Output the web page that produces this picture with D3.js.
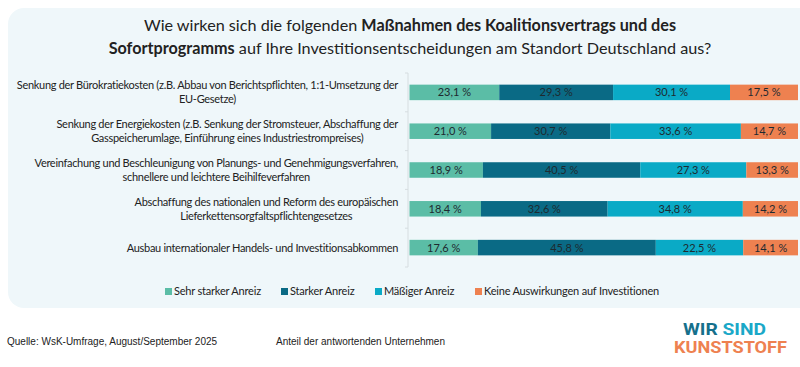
<!DOCTYPE html>
<html>
<head>
  <meta charset="utf-8">
  <script src="https://cdn.jsdelivr.net/npm/d3@7"></script>
  <style>
    body { margin: 0; background: #fff; }
    svg { display: block; }
  </style>
</head>
<body>
  <svg width="800" height="367"></svg>
</body>
<script>

const categories = [
  ['Senkung der Bürokratiekosten (z.B. Abbau von Berichtspflichten, 1:1-Umsetzung der', 'EU-Gesetze)'],
  ['Senkung der Energiekosten (z.B. Senkung der Stromsteuer, Abschaffung der', 'Gasspeicherumlage, Einführung eines Industriestrompreises)'],
  ['Vereinfachung und Beschleunigung von Planungs- und Genehmigungsverfahren,', 'schnellere und leichtere Beihilfeverfahren'],
  ['Abschaffung des nationalen und Reform des europäischen', 'Lieferkettensorgfaltspflichtengesetzes'],
  ['Ausbau internationaler Handels- und Investitionsabkommen']
];

const series = ['Sehr starker Anreiz', 'Starker Anreiz', 'Mäßiger Anreiz', 'Keine Auswirkungen auf Investitionen'];

const sehrStark = [23.1, 21.0, 18.9, 18.4, 17.6];
const stark     = [29.3, 30.7, 40.5, 32.6, 45.8];
const maessig   = [30.1, 33.6, 27.3, 34.8, 22.5];
const keine     = [17.5, 14.7, 13.3, 14.2, 14.1];

const colors = ['#5bbda6', '#0a6a85', '#0aaac6', '#ee8150'];

let svg = d3.select('svg');

// panel background
svg.append('rect')
  .attr('x', 8).attr('y', 8)
  .attr('width', 810).attr('height', 300)
  .attr('rx', 16)
  .style('fill', '#eff7fa');

// title
let title = svg.append('text')
  .attr('text-anchor', 'middle')
  .style('font-family', 'Lato, sans-serif')
  .style('font-size', '16.2px')
  .style('fill', '#222');
let t1 = title.append('tspan').attr('x', 410).attr('y', 31);
t1.append('tspan').text('Wie wirken sich die folgenden ');
t1.append('tspan').style('font-weight', 'bold').text('Maßnahmen des Koalitionsvertrags und des');
let t2 = title.append('tspan').attr('x', 410).attr('y', 54);
t2.append('tspan').style('font-weight', 'bold').text('Sofortprogramms');
t2.append('tspan').text(' auf Ihre Investitionsentscheidungen am Standort Deutschland aus?');

let rows = categories.map((c, i) => ({
  idx: i,
  label: c,
  values: [sehrStark[i], stark[i], maessig[i], keine[i]]
}));

let x = d3.scaleLinear().domain([0, 100]).range([409.5, 798]);
let y = d3.scaleBand().domain(d3.range(rows.length)).range([73, 267]).paddingInner(0.6).paddingOuter(0.3);

// axis line with ticks between categories
let axis = svg.append('g');
axis.append('line')
  .attr('x1', 408).attr('x2', 408)
  .attr('y1', 73).attr('y2', 267)
  .style('stroke', '#d6dde0');
let bounds = d3.range(rows.length + 1).map(i => 73 + i * y.step());
axis.selectAll('.tk').data(bounds).join('line')
  .attr('x1', 405).attr('x2', 408)
  .attr('y1', d => d).attr('y2', d => d)
  .style('stroke', '#d6dde0');

// bars
rows.forEach(r => {
  let acc = 0;
  let g = svg.append('g');
  r.values.forEach((v, k) => {
    let x0 = acc;
    acc += v;
    g.append('rect')
      .attr('x', x(x0))
      .attr('y', y(r.idx))
      .attr('width', x(acc) - x(x0))
      .attr('height', y.bandwidth())
      .style('fill', colors[k]);
    g.append('text')
      .attr('x', (x(x0) + x(acc)) / 2)
      .attr('y', y(r.idx) + y.bandwidth() / 2 + 4)
      .attr('text-anchor', 'middle')
      .style('font-family', 'Lato, sans-serif')
      .style('font-size', '11px')
      .style('fill', '#1e2a30')
      .text(v.toFixed(1).replace('.', ',') + ' %');
  });

  // category label: block right-aligned, lines centred inside it
  let lines = r.label;
  let cy = y(r.idx) + y.bandwidth() / 2;
  let lab = svg.append('text')
    .attr('text-anchor', 'middle')
    .style('font-family', 'Lato, sans-serif')
    .style('font-size', '11px')
    .style('letter-spacing', '-0.3px')
    .style('fill', '#222');
  let spans = lines.map((l, j) =>
    lab.append('tspan')
      .attr('y', cy + 4 + (j - (lines.length - 1) / 2) * 14)
      .text(l));
  let wmax = d3.max(spans, s => s.node().getComputedTextLength());
  spans.forEach(s => s.attr('x', 398 - wmax / 2));
});

// legend
let legendX = [165, 281, 375, 475];
let legend = svg.append('g');
series.forEach((s, k) => {
  legend.append('rect')
    .attr('x', legendX[k]).attr('y', 288)
    .attr('width', 7).attr('height', 7)
    .style('fill', colors[k]);
  legend.append('text')
    .attr('x', legendX[k] + 9).attr('y', 295)
    .style('font-family', 'Lato, sans-serif')
    .style('font-size', '11px')
    .style('letter-spacing', '-0.2px')
    .style('fill', '#222')
    .text(s);
});

// footer
svg.append('text')
  .attr('x', 7).attr('y', 345)
  .style('font-family', 'Liberation Sans, Arial, sans-serif')
  .style('font-size', '10px')
  .style('fill', '#222')
  .text('Quelle: WsK-Umfrage, August/September 2025');
svg.append('text')
  .attr('x', 276).attr('y', 345)
  .style('font-family', 'Liberation Sans, Arial, sans-serif')
  .style('font-size', '10px')
  .style('fill', '#222')
  .text('Anteil der antwortenden Unternehmen');

// logo
let logo = svg.append('g')
  .style('font-family', 'Roboto, sans-serif')
  .style('font-weight', 'bold')
  .style('font-size', '16px');
let l1 = logo.append('text').attr('x', 683).attr('y', 335)
  .attr('textLength', 83).attr('lengthAdjust', 'spacingAndGlyphs');
l1.append('tspan').style('fill', '#16708c').text('WIR ');
l1.append('tspan').style('fill', '#1aa8c8').text('SIND');
logo.append('text').attr('x', 674).attr('y', 353)
  .attr('textLength', 113).attr('lengthAdjust', 'spacingAndGlyphs')
  .style('fill', '#ee8150')
  .text('KUNSTSTOFF');

</script>
</html>
